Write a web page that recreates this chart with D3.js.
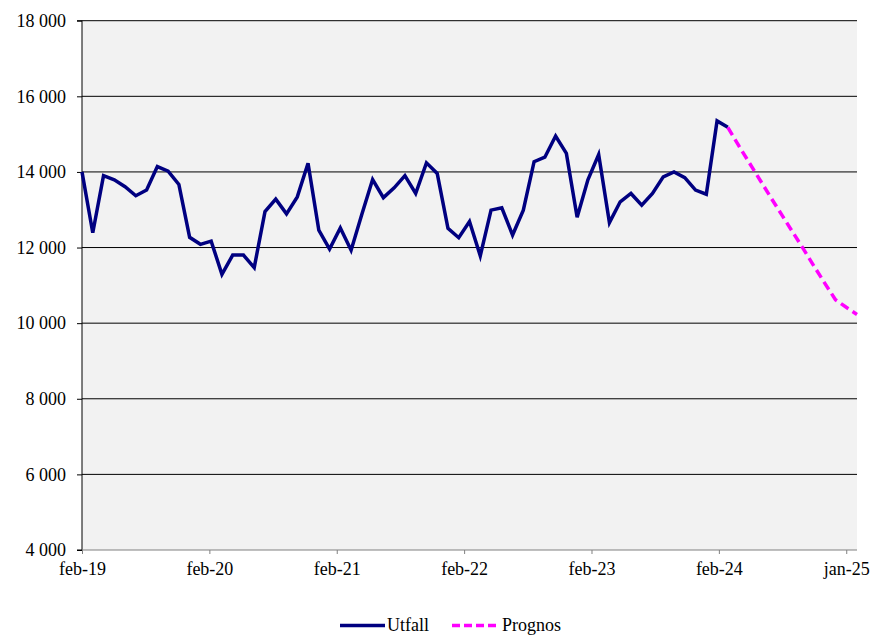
<!DOCTYPE html>
<html>
<head>
<meta charset="utf-8">
<script src="https://cdn.jsdelivr.net/npm/d3@7"></script>
<style>
  html, body { margin: 0; padding: 0; background: #fff; }
</style>
</head>
<body>
<svg id="chart" width="881" height="635"></svg>
<script>
// Monthly values, first point = feb-19
const utfall = [
  14000, 12390, 13900, 13790, 13610, 13370, 13520, 14140, 14020, 13670, 12270, 12085,
  12170, 11290, 11800, 11800, 11470, 12950, 13280, 12890, 13340, 14230, 12460, 11960,
  12520, 11930, 12880, 13800, 13320, 13580, 13900, 13430, 14240, 13960, 12510, 12260,
  12690, 11780, 12990, 13050, 12330, 12990, 14270, 14390, 14950, 14490, 12800, 13790,
  14460, 12660, 13210, 13430, 13120, 13430, 13870, 14000, 13850, 13520, 13410, 15350,
  15180
];
// Forecast begins at the last observed month
const prognosStart = 60;
const prognos = [15180, 14700, 14240, 13780, 13320, 12870, 12420, 11970, 11510, 11060, 10620, 10420, 10230];
const yTicks = [4000, 6000, 8000, 10000, 12000, 14000, 16000, 18000];
const xTickLabels = ["feb-19", "feb-20", "feb-21", "feb-22", "feb-23", "feb-24", "jan-25"];
const seriesNames = ["Utfall", "Prognos"];
const seriesColors = ["#000080", "#ff00ff"];

const nMonths = prognosStart + prognos.length; // 73 months
const lastLabelMonth = 71;                       // jan-25

const FONT = '"Liberation Serif", "Times New Roman", serif';
const svg = d3.select("#chart");
const L = 82, R = 857, T = 20.7, B = 550;

const x = d3.scaleLinear().domain([0, nMonths - 1]).range([L, R]);
const y = d3.scaleLinear().domain([4000, 18000]).range([B, T]);

// plot background
svg.append("rect").attr("x", L).attr("y", T).attr("width", R - L).attr("height", B - T).attr("fill", "#f2f2f2");

// gridlines
svg.append("g").selectAll("line").data(yTicks.filter(v => v > 4000)).join("line")
  .attr("x1", L).attr("x2", R).attr("y1", d => y(d)).attr("y2", d => y(d))
  .attr("stroke", "#000").attr("stroke-width", 1);

// y axis
const yAxis = d3.axisLeft(y).tickValues(yTicks).tickSize(5).tickPadding(11)
  .tickFormat(d => d3.format(",")(d).replace(/,/g, " "));
const gy = svg.append("g").attr("transform", `translate(${L},0)`).call(yAxis);
gy.select(".domain").attr("stroke", "#000").attr("d", `M-5,${B}H0V${T}H-5`);
gy.selectAll(".tick line").attr("stroke", "#000");
gy.selectAll(".tick text").style("font-family", FONT).style("font-size", "18px").attr("fill", "#000");

// x axis
const xTickVals = xTickLabels.map((_, i) => i * lastLabelMonth / (xTickLabels.length - 1));
const xAxis = d3.axisBottom(x).tickValues(xTickVals).tickSize(4).tickPadding(8)
  .tickFormat((d, i) => xTickLabels[i]);
const gx = svg.append("g").attr("transform", `translate(0,${B})`).call(xAxis);
gx.select(".domain").attr("stroke", "#808080").attr("d", `M${L},0H${R}`);
gx.selectAll(".tick line").attr("stroke", "#808080");
gx.selectAll(".tick text").style("font-family", FONT).style("font-size", "18px").attr("fill", "#000");

// lines
const line = d3.line().x(d => x(d.i)).y(d => y(d.v));
const utData = utfall.map((v, i) => ({ i, v }));
const prData = prognos.map((v, k) => ({ i: prognosStart + k, v }));

svg.append("path").datum(utData).attr("d", line)
  .attr("fill", "none").attr("stroke", seriesColors[0]).attr("stroke-width", 3.5)
  .attr("stroke-linejoin", "miter");
svg.append("path").datum(prData).attr("d", line)
  .attr("fill", "none").attr("stroke", seriesColors[1]).attr("stroke-width", 3.5)
  .attr("stroke-dasharray", "9,5");

// legend
const leg = svg.append("g");
const legItems = [
  { name: seriesNames[0], color: seriesColors[0], dash: null, x1: 340, x2: 385 },
  { name: seriesNames[1], color: seriesColors[1], dash: "8,4", x1: 452, x2: 500 }
];
legItems.forEach(it => {
  leg.append("line").attr("x1", it.x1).attr("x2", it.x2).attr("y1", 625.5).attr("y2", 625.5)
    .attr("stroke", it.color).attr("stroke-width", 3.5)
    .attr("stroke-dasharray", it.dash);
  leg.append("text").attr("x", it.x2 + 2).attr("y", 631)
    .style("font-family", FONT).style("font-size", "18px")
    .attr("fill", "#000").text(it.name);
});
</script>
</body>
</html>
